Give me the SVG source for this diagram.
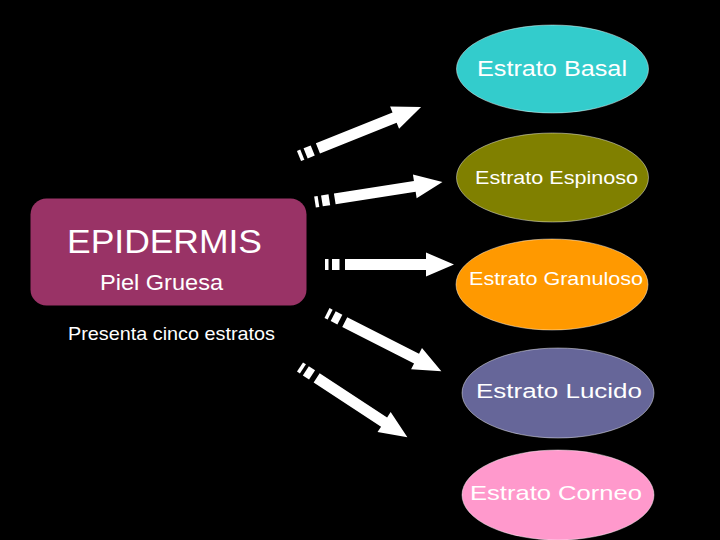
<svg xmlns="http://www.w3.org/2000/svg" xmlns:xlink="http://www.w3.org/1999/xlink" width="720" height="540" viewBox="0 0 720 540">
<style>
.bg{fill:#000}
.ell{stroke:#ffffff;stroke-width:1;stroke-opacity:0.45}
.t{font-family:"Liberation Sans",Arial,sans-serif;fill:#ffffff}
.arrow{fill:#ffffff}
</style>
<defs>
<g id="sarrow">
<rect x="0" y="-5.5" width="3.5" height="11"/>
<rect x="7" y="-5.5" width="7.5" height="11"/>
<path d="M20,-5.5 H101 V-12 L129,0 L101,12 V5.5 H20 Z"/>
</g>
</defs>
<rect class="bg" x="0" y="0" width="720" height="540"/>
<g id="connectors" class="arrow">
<use xlink:href="#sarrow" href="#sarrow" transform="translate(299,156) rotate(-21.9) scale(1.02,1)"/>
<use xlink:href="#sarrow" href="#sarrow" transform="translate(315,202) rotate(-8.9)"/>
<use xlink:href="#sarrow" href="#sarrow" transform="translate(325,264.5)"/>
<use xlink:href="#sarrow" href="#sarrow" transform="translate(327,313) rotate(27) scale(0.995,1)"/>
<use xlink:href="#sarrow" href="#sarrow" transform="translate(300,367) rotate(33.2) scale(0.995,1)"/>
</g>
<g id="epidermis">
<rect x="30.5" y="198.5" width="276" height="107" rx="16" ry="16" fill="#993366"/>
<text class="t" x="67" y="253" font-size="34" textLength="195" lengthAdjust="spacingAndGlyphs">EPIDERMIS</text>
<text class="t" x="100" y="290" font-size="22" textLength="123" lengthAdjust="spacingAndGlyphs">Piel Gruesa</text>
</g>
<g id="caption">
<text class="t" x="68" y="340" font-size="19" textLength="207" lengthAdjust="spacingAndGlyphs">Presenta cinco estratos</text>
</g>
<g id="basal">
<ellipse class="ell" cx="552.5" cy="69" rx="96" ry="44" fill="#33CCCC"/>
<text class="t" x="477" y="76" font-size="22" textLength="150" lengthAdjust="spacingAndGlyphs">Estrato Basal</text>
</g>
<g id="espinoso">
<ellipse class="ell" cx="552.5" cy="177.5" rx="96" ry="44.5" fill="#808000"/>
<text class="t" x="475" y="184" font-size="19" textLength="163" lengthAdjust="spacingAndGlyphs">Estrato Espinoso</text>
</g>
<g id="granuloso">
<ellipse class="ell" cx="552" cy="284.5" rx="96" ry="45.5" fill="#FF9900"/>
<text class="t" x="469" y="285" font-size="18" textLength="174" lengthAdjust="spacingAndGlyphs">Estrato Granuloso</text>
</g>
<g id="lucido">
<ellipse class="ell" cx="558" cy="393" rx="96" ry="45" fill="#666699"/>
<text class="t" x="476" y="398" font-size="20" textLength="166" lengthAdjust="spacingAndGlyphs">Estrato Lucido</text>
</g>
<g id="corneo">
<ellipse class="ell" cx="558" cy="495" rx="96" ry="45" fill="#FF99CC"/>
<text class="t" x="470" y="500" font-size="21" textLength="172" lengthAdjust="spacingAndGlyphs">Estrato Corneo</text>
</g>
</svg>
